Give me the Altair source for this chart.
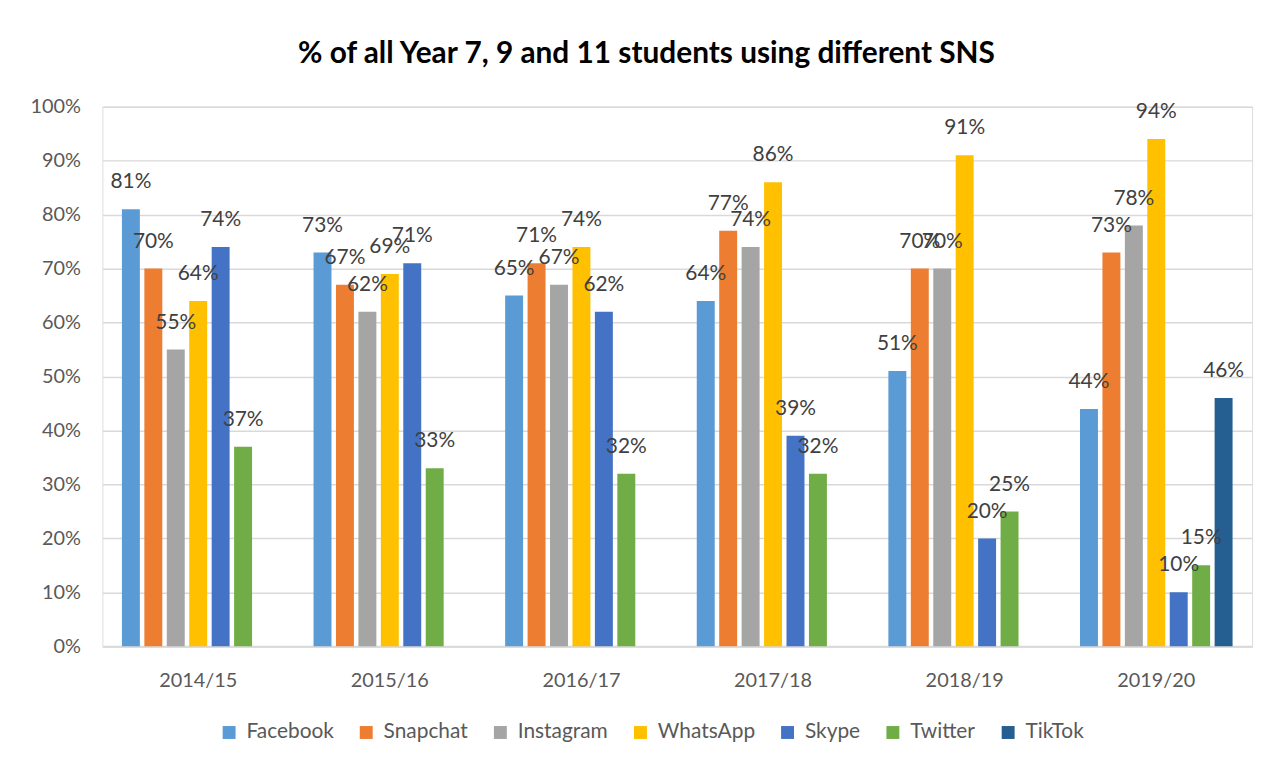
import altair as alt
import pandas as pd

years = ["2014/15", "2015/16", "2016/17", "2017/18", "2018/19", "2019/20"]
platforms = ["Facebook", "Snapchat", "Instagram", "WhatsApp", "Skype", "Twitter", "TikTok"]
colors = ["#5B9BD5", "#ED7D31", "#A5A5A5", "#FFC000", "#4472C4", "#70AD47", "#255E91"]

facebook = [81, 73, 65, 64, 51, 44]
snapchat = [70, 67, 71, 77, 70, 73]
instagram = [55, 62, 67, 74, 70, 78]
whatsapp = [64, 69, 74, 86, 91, 94]
skype = [74, 71, 62, 39, 20, 10]
twitter = [37, 33, 32, 32, 25, 15]
tiktok = [None, None, None, None, None, 46]

series = [facebook, snapchat, instagram, whatsapp, skype, twitter, tiktok]
rows = []
for name, vals in zip(platforms, series):
    for yr, v in zip(years, vals):
        if v is not None:
            rows.append({"year": yr, "platform": name, "value": v / 100.0})
df = pd.DataFrame(rows)

FONT = "Lato"

base = alt.Chart(df).encode(
    x=alt.X("year:N", sort=years,
            scale=alt.Scale(paddingInner=0, paddingOuter=0),
            axis=alt.Axis(title=None, labelAngle=0, labelFontSize=20, labelColor="#595959",
                          labelFont=FONT, ticks=False, domain=True, domainColor="#D9D9D9",
                          domainWidth=2, labelPadding=24, grid=False)),
    xOffset=alt.XOffset("platform:N", sort=platforms,
                        scale=alt.Scale(domain=platforms, paddingInner=0.2, paddingOuter=0.87)),
    y=alt.Y("value:Q",
            scale=alt.Scale(domain=[0, 1], nice=False),
            axis=alt.Axis(title=None, format=".0%", values=[i / 10 for i in range(11)],
                          labelFontSize=20, labelColor="#595959", labelFont=FONT,
                          ticks=False, domain=False, gridColor="#D9D9D9", gridWidth=1.5,
                          labelPadding=22)),
)

bars = base.mark_bar().encode(
    color=alt.Color("platform:N", sort=platforms,
                    scale=alt.Scale(domain=platforms, range=colors),
                    legend=alt.Legend(title=None, orient="none", direction="horizontal",
                                      legendX=117, legendY=619, symbolType="square",
                                      symbolSize=169, symbolStrokeWidth=0,
                                      labelFontSize=21, labelFont=FONT, labelColor="#595959",
                                      labelOffset=7, columnPadding=22))
)

labels = base.mark_text(baseline="middle", dy=-27, fontSize=21, font=FONT, color="#404040").encode(
    text=alt.Text("value:Q", format=".0%")
)

chart = (bars + labels).properties(
    width=1157,
    height=543,
    padding={"left": 95, "top": 97, "right": 15, "bottom": 100},
    autosize=alt.AutoSizeParams(type="none"),
    title=alt.TitleParams("% of all Year 7, 9 and 11 students using different SNS",
                          fontSize=30, fontWeight="bold", font=FONT, color="#000000",
                          anchor="middle", offset=28, dx=-31),
).configure_view(stroke=None).configure(background="white")

chart.save("out.html", embed_options={"renderer": "svg", "actions": False})
